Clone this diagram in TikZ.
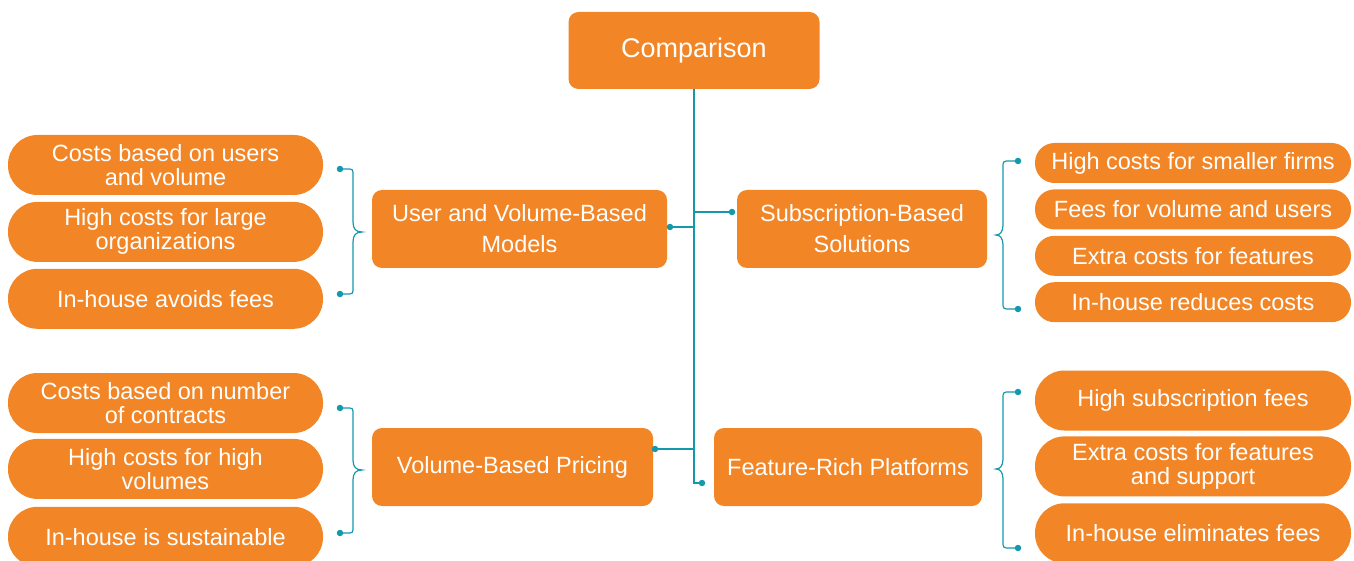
\documentclass[tikz,border=0pt]{standalone}
\usepackage{fontspec}
\setmainfont{Liberation Sans}
\usepackage{tikz}
\usetikzlibrary{positioning}
\definecolor{boxorange}{RGB}{242,133,37}
\definecolor{linkteal}{RGB}{20,152,172}

\begin{document}
\begin{tikzpicture}[x=1pt,y=-1pt,
        topic/.style={fill=boxorange,rounded corners=10pt,text=white,align=center,inner sep=2pt,minimum height=78pt,font=\fontsize{23.5}{31}\selectfont},
        pill/.style={fill=boxorange,rounded corners=29.5pt,text=white,align=center,inner sep=2pt,minimum width=315pt,minimum height=60pt,font=\fontsize{23.5}{24}\selectfont},
        smallpill/.style={pill,rounded corners=19.5pt,minimum width=316pt,minimum height=40pt},
        link/.style={draw=linkteal,line width=1.4pt},
        dot/.style={circle,fill=linkteal,inner sep=0pt,minimum size=6.5pt}]
        \useasboundingbox (0,0) rectangle (1354,561);

        \node[topic,minimum width=251pt,minimum height=77pt,font=\fontsize{27}{31}\selectfont] (cmp) at (694,50.5) {Comparison};

        \node[topic,minimum width=295pt] (uvm) at (519.5,229) {User and Volume-Based\\Models};
        \node[topic,minimum width=250pt] (sub) at (862,229) {Subscription-Based\\Solutions};
        \node[topic,minimum width=281pt] (vbp) at (512.5,467) {Volume-Based Pricing};
        \node[topic,minimum width=268pt] (frp) at (848,467) {Feature-Rich Platforms};

        % links van de kern
        \coordinate (tend) at (694,483);
        \node[dot] (ud) at (670,227) {};
        \node[dot] (sd) at (732,212) {};
        \node[dot] (vd) at (655,449) {};
        \node[dot] (fd) at (702,483) {};
        \draw[link] (cmp.south) -- (tend) -- (fd);
        \draw[link] (ud) -- (ud -| cmp.south);
        \draw[link] (sd) -- (sd -| cmp.south);
        \draw[link] (vd) -- (vd -| cmp.south);

        % linker kolom
        \node[pill] (u1) at (165.5,165) {Costs based on users\\and volume};
        \node[pill,below=6.5pt of u1] (u2) {High costs for large\\organizations};
        \node[pill,below=6.5pt of u2] (u3) {In-house avoids fees};

        \node[pill] (v1) at (165.5,403) {Costs based on number\\of contracts};
        \node[pill,below=5.5pt of v1] (v2) {High costs for high\\volumes};
        \node[pill,below=7.5pt of v2] (v3) {In-house is sustainable};

        % rechter kolom
        \node[smallpill] (s1) at (1193,163) {High costs for smaller firms};
        \node[smallpill,below=6pt of s1] (s2) {Fees for volume and users};
        \node[smallpill,below=6pt of s2] (s3) {Extra costs for features};
        \node[smallpill,below=6pt of s3] (s4) {In-house reduces costs};

        \node[pill,minimum width=316pt] (f1) at (1193,400.5) {High subscription fees};
        \node[pill,minimum width=316pt,below=5.5pt of f1] (f2) {Extra costs for features\\and support};
        \node[pill,minimum width=316pt,below=6.5pt of f2] (f3) {In-house eliminates fees};

        % accolades
        \node[dot] (ua) at (340,169) {};
        \node[dot] (ub) at (340,294) {};
        \draw[link,line width=1.2pt] (ua.center) -- (347,169) .. controls (353,169) .. (353,176) -- (353,222)
            .. controls (353,229) and (356,232) .. (362,232) .. controls (356,232) and (353,235) .. (353,242) -- (353,287)
            .. controls (353,294) .. (347,294) -- (ub.center);

        \node[dot] (va) at (340,408) {};
        \node[dot] (vb) at (340,533) {};
        \draw[link,line width=1.2pt] (va.center) -- (347,408) .. controls (353,408) .. (353,415) -- (353,460)
            .. controls (353,467) and (356,470) .. (362,470) .. controls (356,470) and (353,473) .. (353,480) -- (353,526)
            .. controls (353,533) .. (347,533) -- (vb.center);

        \node[dot] (sa) at (1018,161) {};
        \node[dot] (sb) at (1018,309) {};
        \draw[link,line width=1.2pt] (sa.center) -- (1010,161) .. controls (1003,161) .. (1003,168) -- (1003,225)
            .. controls (1003,232) and (1000,235) .. (996,235) .. controls (1000,235) and (1003,238) .. (1003,245) -- (1003,302)
            .. controls (1003,309) .. (1010,309) -- (sb.center);

        \node[dot] (fa) at (1018,392) {};
        \node[dot] (fb) at (1018,548) {};
        \draw[link,line width=1.2pt] (fa.center) -- (1010,392) .. controls (1003,392) .. (1003,399) -- (1003,459)
            .. controls (1003,466) and (1000,469) .. (996,469) .. controls (1000,469) and (1003,472) .. (1003,479) -- (1003,541)
            .. controls (1003,548) .. (1010,548) -- (fb.center);
\end{tikzpicture}
\end{document}
